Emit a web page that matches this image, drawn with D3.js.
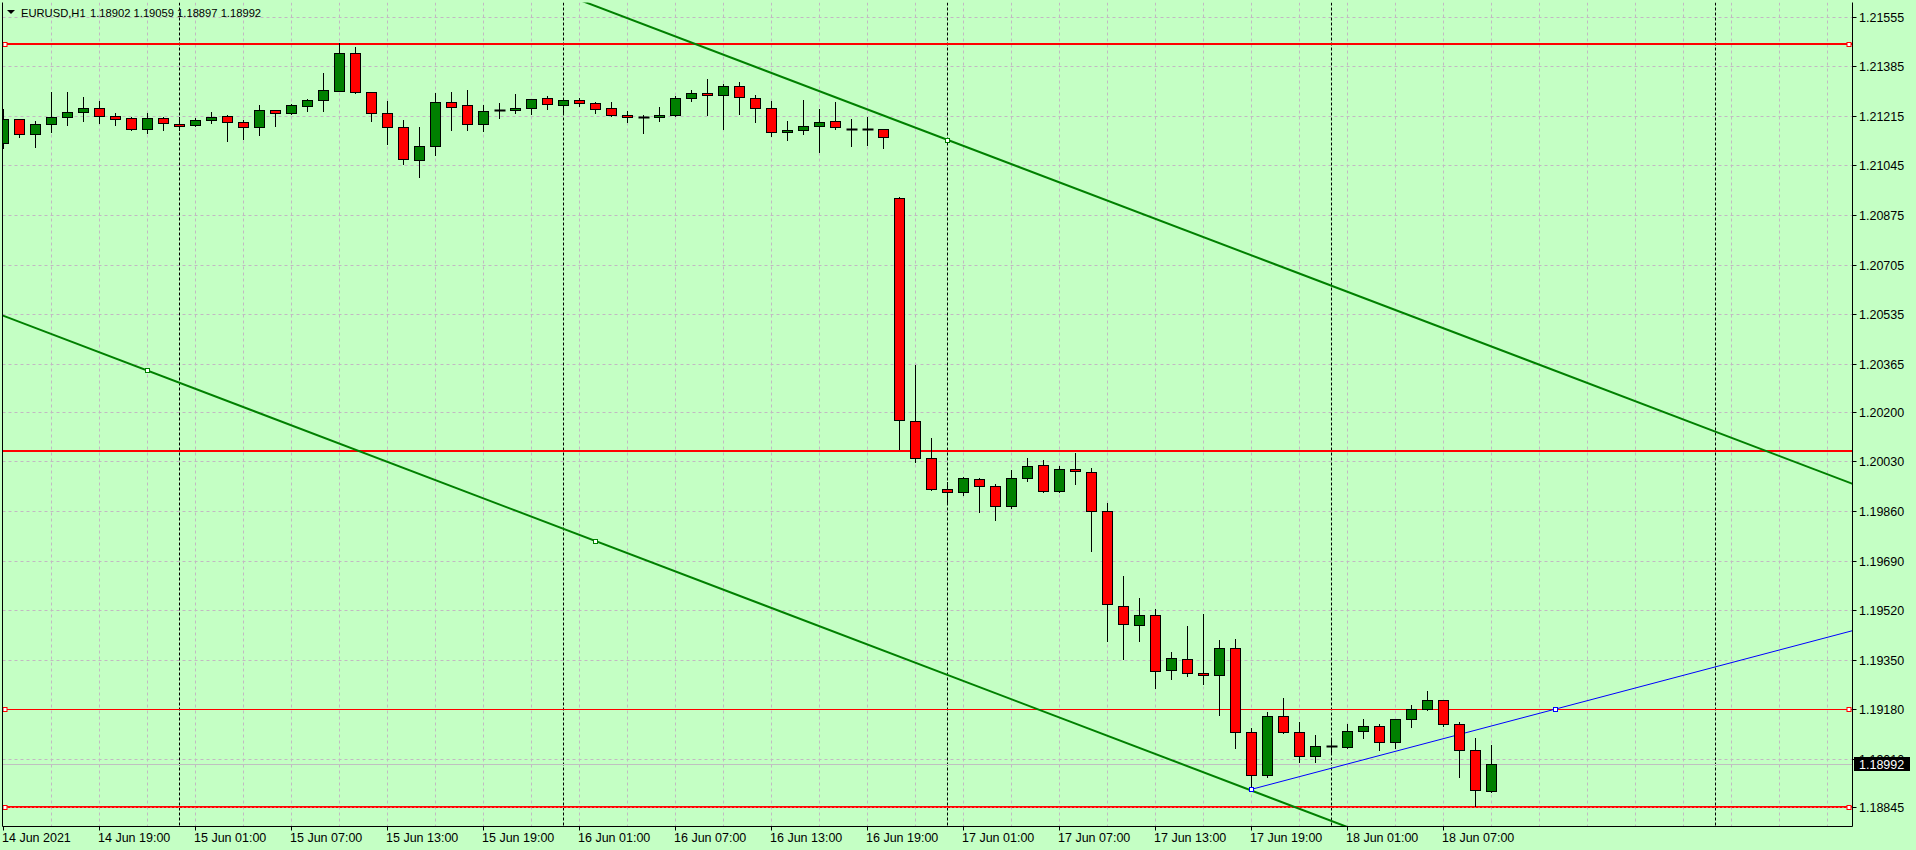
<!DOCTYPE html>
<html>
<head>
<meta charset="utf-8">
<script src="https://cdn.jsdelivr.net/npm/d3@7"></script>
<style>
  body { margin: 0; background: #c4ffc4; overflow: hidden; }
  svg { display: block; }
  text { font-family: "Liberation Sans", Arial, sans-serif; font-size: 12.5px; fill: #000; }
  text.head { font-size: 11.2px; }
</style>
</head>
<body>
<svg id="chart" width="1916" height="850"></svg>
<script>
// bars are numbered in hours from 15 Jun 2021 00:00, first one is 14 Jun 13:00
const firstBar = -11;
const symbol = 'EURUSD,H1';

const opens = [
  1.21120, 1.21203, 1.21151, 1.21186, 1.21210, 1.21227, 1.21240, 1.21214, 1.21206, 1.21168, 1.21206,
  1.21186, 1.21182, 1.21199, 1.21213, 1.21192, 1.21175, 1.21234, 1.21223, 1.21249, 1.21268, 1.21300, 1.21429,
  1.21295, 1.21223, 1.21175, 1.21062, 1.21110, 1.21261, 1.21252, 1.21186, 1.21234, 1.21234, 1.21240, 1.21275,
  1.21251, 1.21268, 1.21258, 1.21240, 1.21216, 1.21212, 1.21210, 1.21216, 1.21275, 1.21292, 1.21285, 1.21316,
  1.21275, 1.21240, 1.21158, 1.21165, 1.21179, 1.21196, 1.21171, 1.21168, 1.21168, 1.20932, 1.20168, 1.20041,
  1.19935, 1.19924, 1.19969, 1.19945, 1.19876, 1.19972, 1.20017, 1.19928, 1.20003, 1.19993, 1.19859, 1.19534,
  1.19468, 1.19503, 1.19314, 1.19352, 1.19304, 1.19297, 1.19390, 1.19102, 1.18954, 1.19156, 1.19102, 1.19019,
  1.19054, 1.19050, 1.19108, 1.19122, 1.19067, 1.19146, 1.19181, 1.19211, 1.19129, 1.19040, 1.18902
];
const highs = [
  1.21237, 1.21205, 1.21197, 1.21296, 1.21296, 1.21279, 1.21265, 1.21224, 1.21210, 1.21224, 1.21211,
  1.21210, 1.21207, 1.21227, 1.21217, 1.21200, 1.21251, 1.21236, 1.21256, 1.21273, 1.21360, 1.21463, 1.21451,
  1.21296, 1.21265, 1.21200, 1.21175, 1.21293, 1.21295, 1.21303, 1.21251, 1.21259, 1.21289, 1.21272, 1.21283,
  1.21275, 1.21275, 1.21261, 1.21261, 1.21230, 1.21216, 1.21244, 1.21282, 1.21302, 1.21340, 1.21323, 1.21330,
  1.21285, 1.21264, 1.21196, 1.21268, 1.21237, 1.21261, 1.21203, 1.21211, 1.21169, 1.20935, 1.20361, 1.20110,
  1.19961, 1.19976, 1.19972, 1.19952, 1.20000, 1.20041, 1.20034, 1.20013, 1.20058, 1.20007, 1.19887, 1.19636,
  1.19561, 1.19523, 1.19376, 1.19465, 1.19506, 1.19417, 1.19420, 1.19115, 1.19170, 1.19220, 1.19136, 1.19091,
  1.19074, 1.19130, 1.19146, 1.19129, 1.19147, 1.19194, 1.19242, 1.19213, 1.19136, 1.19081, 1.19059
];
const lows = [
  1.21105, 1.21143, 1.21109, 1.21160, 1.21184, 1.21198, 1.21191, 1.21184, 1.21166, 1.21157, 1.21167,
  1.21166, 1.21180, 1.21191, 1.21129, 1.21136, 1.21150, 1.21181, 1.21221, 1.21232, 1.21232, 1.21298, 1.21293,
  1.21197, 1.21118, 1.21051, 1.21004, 1.21081, 1.21167, 1.21167, 1.21164, 1.21208, 1.21223, 1.21220, 1.21239,
  1.21224, 1.21249, 1.21225, 1.21215, 1.21194, 1.21157, 1.21198, 1.21214, 1.21264, 1.21218, 1.21171, 1.21222,
  1.21194, 1.21144, 1.21133, 1.21151, 1.21092, 1.21168, 1.21112, 1.21116, 1.21105, 1.20074, 1.20029, 1.19933,
  1.19889, 1.19916, 1.19858, 1.19830, 1.19869, 1.19964, 1.19926, 1.19924, 1.19952, 1.19724, 1.19416, 1.19354,
  1.19416, 1.19254, 1.19283, 1.19294, 1.19266, 1.19161, 1.19049, 1.18906, 1.18950, 1.19098, 1.19001, 1.19001,
  1.19030, 1.19048, 1.19081, 1.19040, 1.19049, 1.19119, 1.19179, 1.19122, 1.18947, 1.18848, 1.18897
];
const closes = [
  1.21203, 1.21151, 1.21186, 1.21211, 1.21228, 1.21240, 1.21213, 1.21205, 1.21168, 1.21206, 1.21189,
  1.21179, 1.21199, 1.21210, 1.21192, 1.21175, 1.21234, 1.21223, 1.21251, 1.21268, 1.21302, 1.21429, 1.21295,
  1.21223, 1.21175, 1.21066, 1.21110, 1.21261, 1.21246, 1.21186, 1.21230, 1.21234, 1.21240, 1.21271, 1.21254,
  1.21268, 1.21258, 1.21237, 1.21216, 1.21210, 1.21212, 1.21216, 1.21275, 1.21292, 1.21285, 1.21316, 1.21278,
  1.21240, 1.21158, 1.21165, 1.21179, 1.21192, 1.21175, 1.21171, 1.21168, 1.21141, 1.20172, 1.20041, 1.19935,
  1.19924, 1.19972, 1.19945, 1.19876, 1.19972, 1.20013, 1.19928, 1.20003, 1.19996, 1.19859, 1.19540, 1.19472,
  1.19503, 1.19311, 1.19355, 1.19304, 1.19297, 1.19390, 1.19102, 1.18954, 1.19156, 1.19102, 1.19019, 1.19054,
  1.19054, 1.19108, 1.19122, 1.19067, 1.19146, 1.19181, 1.19211, 1.19129, 1.19040, 1.18903, 1.18992
];

const priceLabels = ['1.21555', '1.21385', '1.21215', '1.21045', '1.20875', '1.20705', '1.20535', '1.20365',
  '1.20200', '1.20030', '1.19860', '1.19690', '1.19520', '1.19350', '1.19180', '1.19010', '1.18845'];

const timeLabels = ['14 Jun 2021', '14 Jun 19:00', '15 Jun 01:00', '15 Jun 07:00', '15 Jun 13:00', '15 Jun 19:00',
  '16 Jun 01:00', '16 Jun 07:00', '16 Jun 13:00', '16 Jun 19:00', '17 Jun 01:00', '17 Jun 07:00',
  '17 Jun 13:00', '17 Jun 19:00', '18 Jun 01:00', '18 Jun 07:00'];
const timeLabelBars = [-11, -5, 1, 7, 13, 19, 25, 31, 37, 43, 49, 55, 61, 67, 73, 79];

const daySeparators = [0, 24, 48, 72, 96];

// horizontal levels drawn on the chart
const levels = [1.21460, 1.20066, 1.19182, 1.18847];
const levelWidths = [2, 2, 1, 2];
const levelMarked = [true, false, true, true];

// trend lines, two anchors each (bar, price)
const channelTop = [[48, 1.21133], [104, 1.19966]];
const channelBottom = [[-2, 1.20342], [26, 1.19758]];
const supportLine = [[67, 1.18906], [86, 1.19181]];

const SVG = d3.select('#chart');
const plot = { left: 2.5, right: 1852.5, top: 2.5, bottom: 826.5 };
const BG = '#c4ffc4';
const UP = '#008000';
const DOWN = '#ff0000';

let bars = opens.map((o, i) => ({ k: firstBar + i, o: o, h: highs[i], l: lows[i], c: closes[i] }));

let x = d3.scaleLinear().domain([firstBar, 104]).range([3.5, 1843.5]);
let y = d3.scaleLinear().domain([1.18779, 1.21603]).range([plot.bottom, plot.top]);

const px = v => Math.round(v) + 0.5;

SVG.append('rect').attr('width', 1916).attr('height', 850).attr('fill', BG);

SVG.append('defs').append('clipPath').attr('id', 'plotclip')
    .append('rect')
    .attr('x', plot.left).attr('y', plot.top)
    .attr('width', plot.right - plot.left).attr('height', plot.bottom - plot.top);

let g = SVG.append('g').attr('clip-path', 'url(#plotclip)');

// grid
let gridBars = d3.range(-8, 105, 3);
g.selectAll('line.vgrid')
    .data(gridBars)
    .enter().append('line')
    .attr('class', 'vgrid')
    .attr('x1', d => px(x(d) - 0.5)).attr('x2', d => px(x(d) - 0.5))
    .attr('y1', plot.top).attr('y2', plot.bottom)
    .attr('stroke', '#c2b8c2').attr('stroke-dasharray', '3,3');

g.selectAll('line.hgrid')
    .data(priceLabels)
    .enter().append('line')
    .attr('class', 'hgrid')
    .attr('x1', plot.left).attr('x2', plot.right)
    .attr('y1', d => px(y(+d))).attr('y2', d => px(y(+d)))
    .attr('stroke', '#c2b8c2').attr('stroke-dasharray', '3,3');

// day separators
g.selectAll('line.sep')
    .data(daySeparators)
    .enter().append('line')
    .attr('class', 'sep')
    .attr('x1', d => px(x(d) - 0.5)).attr('x2', d => px(x(d) - 0.5))
    .attr('y1', plot.top).attr('y2', plot.bottom)
    .attr('stroke', '#000').attr('stroke-dasharray', '3,2');

// bid line
let last = bars[bars.length - 1];
g.append('line')
    .attr('x1', plot.left).attr('x2', plot.right)
    .attr('y1', px(y(last.c))).attr('y2', px(y(last.c)))
    .attr('stroke', '#c0c0c0');

// horizontal levels
levels.forEach((p, i) => {
    let yy = levelWidths[i] == 2 ? Math.round(y(p)) : px(y(p));
    g.append('line')
        .attr('x1', plot.left).attr('x2', plot.right)
        .attr('y1', yy).attr('y2', yy)
        .attr('stroke', DOWN).attr('stroke-width', levelWidths[i]);
    if (i == 3) {
        g.append('line')
            .attr('x1', plot.left).attr('x2', plot.right)
            .attr('y1', yy + 0.5).attr('y2', yy + 0.5)
            .attr('stroke', '#ff9a9a').attr('stroke-dasharray', '1,3');
    }
});

function lineThrough(pts, fromBar, toBar) {
    let [a, b] = pts;
    let slope = (b[1] - a[1]) / (b[0] - a[0]);
    return [[fromBar, a[1] + slope * (fromBar - a[0])], [toBar, a[1] + slope * (toBar - a[0])]];
}

let leftBar = x.invert(plot.left - 5);
let rightBar = x.invert(plot.right + 5);

let trend = d3.line().x(d => x(d[0]) - 0.5).y(d => y(d[1]));

g.append('path')
    .attr('d', trend(lineThrough(channelTop, leftBar, rightBar)))
    .attr('stroke', UP).attr('stroke-width', 2).attr('fill', 'none');
g.append('path')
    .attr('d', trend(lineThrough(channelBottom, leftBar, rightBar)))
    .attr('stroke', UP).attr('stroke-width', 2).attr('fill', 'none');
g.append('path')
    .attr('d', trend(lineThrough(supportLine, supportLine[0][0], rightBar)))
    .attr('stroke', '#0000ff').attr('stroke-width', 1).attr('fill', 'none');

// candles
let candle = g.selectAll('g.bar')
    .data(bars)
    .enter().append('g')
    .attr('class', 'bar');

candle.append('line')
    .attr('x1', d => px(x(d.k) - 0.5)).attr('x2', d => px(x(d.k) - 0.5))
    .attr('y1', d => Math.round(y(d.h))).attr('y2', d => Math.round(y(d.l)) + 1)
    .attr('stroke', '#000');

candle.filter(d => d.o != d.c)
    .append('rect')
    .attr('x', d => px(x(d.k) - 0.5) - 5)
    .attr('width', 10)
    .attr('y', d => px(y(Math.max(d.o, d.c))))
    .attr('height', d => Math.max(1, Math.round(y(Math.min(d.o, d.c))) - Math.round(y(Math.max(d.o, d.c)))))
    .attr('fill', d => d.c > d.o ? UP : DOWN)
    .attr('stroke', '#000');

candle.filter(d => d.o == d.c)
    .append('line')
    .attr('x1', d => px(x(d.k) - 0.5) - 5).attr('x2', d => px(x(d.k) - 0.5) + 6)
    .attr('y1', d => px(y(d.o))).attr('y2', d => px(y(d.o)))
    .attr('stroke', '#000').attr('stroke-width', 2);

// anchor markers
function marker(bx, by, color) {
    g.append('rect')
        .attr('x', bx - 2).attr('y', by - 2)
        .attr('width', 4).attr('height', 4)
        .attr('fill', '#fff').attr('stroke', color);
}
channelTop.slice(0, 1).concat(channelBottom).forEach(p => marker(px(x(p[0]) - 0.5), px(y(p[1])), UP));
supportLine.forEach(p => marker(px(x(p[0]) - 0.5), px(y(p[1])), '#0000ff'));
levels.forEach((p, i) => {
    if (!levelMarked[i]) return;
    marker(5, px(y(p)), DOWN);
    marker(1849, px(y(p)), DOWN);
});

// frame
SVG.append('path')
    .attr('d', `M${plot.left},${plot.top}V${plot.bottom}H${plot.right}V${plot.top}`)
    .attr('fill', 'none').attr('stroke', '#000');

// price axis
SVG.selectAll('line.ytick')
    .data(priceLabels)
    .enter().append('line')
    .attr('x1', plot.right).attr('x2', plot.right + 4)
    .attr('y1', d => px(y(+d))).attr('y2', d => px(y(+d)))
    .attr('stroke', '#000');

// the label under the bid box is only partly visible, as in the terminal
SVG.append('defs').append('clipPath').attr('id', 'bidclip')
    .append('rect')
    .attr('x', plot.right).attr('y', 0)
    .attr('width', 70).attr('height', px(y(last.c)) - 7.5);

SVG.selectAll('text.ylab')
    .data(priceLabels)
    .enter().append('text')
    .attr('class', 'ylab')
    .attr('x', 1859)
    .attr('y', d => px(y(+d)) + 4.5)
    .attr('clip-path', d => Math.abs(y(+d) - y(last.c)) < 12 ? 'url(#bidclip)' : null)
    .text(d => d);

SVG.append('rect')
    .attr('x', 1854).attr('y', px(y(last.c)) - 7.5)
    .attr('width', 56).attr('height', 14)
    .attr('fill', '#000');
SVG.append('text')
    .attr('x', 1859).attr('y', px(y(last.c)) + 4.5)
    .style('fill', '#fff')
    .text(last.c.toFixed(5));

// time axis
SVG.selectAll('line.xtick')
    .data(timeLabelBars)
    .enter().append('line')
    .attr('x1', d => px(x(d) - 0.5)).attr('x2', d => px(x(d) - 0.5))
    .attr('y1', plot.bottom).attr('y2', plot.bottom + 4)
    .attr('stroke', '#000');

SVG.selectAll('text.xlab')
    .data(timeLabels)
    .enter().append('text')
    .attr('x', (d, i) => x(timeLabelBars[i]) - 1.5)
    .attr('y', 842)
    .text(d => d);

// header
SVG.append('path').attr('d', 'M7,10L15,10L11,14Z').attr('fill', '#000');
SVG.append('text').attr('class', 'head').attr('x', 21).attr('y', 17).text(symbol);
SVG.append('text').attr('class', 'head').attr('x', 90).attr('y', 17)
    .text([last.o, last.h, last.l, last.c].map(v => v.toFixed(5)).join(' '));
</script>
</body>
</html>
